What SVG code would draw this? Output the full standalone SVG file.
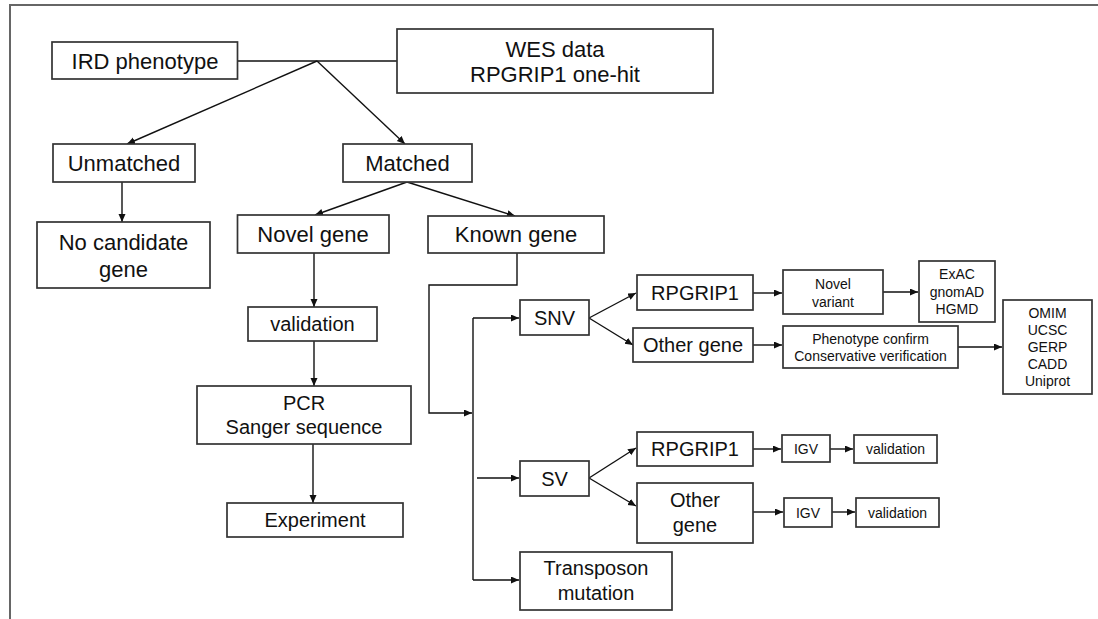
<svg xmlns="http://www.w3.org/2000/svg" width="1098" height="619" viewBox="0 0 1098 619">
<defs>
<marker id="ah" markerUnits="userSpaceOnUse" markerWidth="9" markerHeight="8" refX="8" refY="3.5" orient="auto">
<path d="M0,0 L8,3.5 L0,7 z" fill="#111"/>
</marker>
<style>
.box{fill:#fff;stroke:#333;stroke-width:1.7}
.t{font-family:"Liberation Sans",Arial,sans-serif;fill:#111;text-anchor:middle}
.l{font-size:22px}
.m{font-size:20px}
.s{font-size:14px}
.c{fill:none;stroke:#111;stroke-width:1.4}
.a{fill:none;stroke:#111;stroke-width:1.4;marker-end:url(#ah)}
</style>
</defs>
<rect x="0" y="0" width="1098" height="619" fill="#fff"/>
<path d="M10,619 V5 H1098" fill="none" stroke="#666" stroke-width="2"/>

<g id="connectors">
<path class="c" d="M237.5,61 H397"/>
<path class="a" d="M317,61 L127,144"/>
<path class="a" d="M317,61 L405,144"/>
<path class="a" d="M122,182 V222"/>
<path class="a" d="M407,182 L315,215"/>
<path class="a" d="M407,182 L515,216"/>
<path class="a" d="M314,253 V307"/>
<path class="a" d="M314,341 V386"/>
<path class="a" d="M313,444 V503"/>
<path class="a" d="M517,253 V285 H429 V413 H472"/>
<path class="c" d="M473,318 V580"/>
<path class="a" d="M473,318 H519"/>
<path class="a" d="M473,580 H519"/>
<path class="a" d="M477,478 H519"/>
<path class="a" d="M589,318 L636,293"/>
<path class="a" d="M589,318 L633,345"/>
<path class="a" d="M753,293 H782"/>
<path class="a" d="M753,345 H782"/>
<path class="a" d="M883,292 H918"/>
<path class="a" d="M958,347 H1002"/>
<path class="a" d="M589,478 L636,448"/>
<path class="a" d="M589,478 L636,506"/>
<path class="a" d="M753,449 H781"/>
<path class="a" d="M830,449 H853"/>
<path class="a" d="M753,512 H783"/>
<path class="a" d="M832,512 H855"/>
</g>

<g id="ird"><rect class="box" x="52" y="42" width="185.5" height="37"/><text class="t l" x="145" y="69">IRD phenotype</text></g>
<g id="wes"><rect class="box" x="397" y="29" width="316" height="64"/><text class="t l" x="555" y="57">WES data</text><text class="t l" x="555" y="82">RPGRIP1 one-hit</text></g>
<g id="unmatched"><rect class="box" x="53" y="144" width="142" height="38"/><text class="t l" x="124" y="171">Unmatched</text></g>
<g id="matched"><rect class="box" x="343" y="144" width="129" height="38"/><text class="t l" x="407.5" y="171">Matched</text></g>
<g id="nocandidate"><rect class="box" x="37" y="222" width="173" height="66"/><text class="t l" x="123.5" y="250">No candidate</text><text class="t l" x="123.5" y="277">gene</text></g>
<g id="novelgene"><rect class="box" x="237.5" y="215" width="151.5" height="38"/><text class="t l" x="313" y="242">Novel gene</text></g>
<g id="knowngene"><rect class="box" x="428" y="216" width="176" height="37"/><text class="t l" x="516" y="242">Known gene</text></g>
<g id="validation"><rect class="box" x="248" y="307" width="129" height="34"/><text class="t m" x="312.5" y="331">validation</text></g>
<g id="pcr"><rect class="box" x="197" y="386" width="214" height="58"/><text class="t m" x="304" y="410">PCR</text><text class="t m" x="304" y="434">Sanger sequence</text></g>
<g id="experiment"><rect class="box" x="227" y="503" width="176" height="34"/><text class="t m" x="315" y="527">Experiment</text></g>
<g id="snv"><rect class="box" x="520" y="300" width="69" height="35"/><text class="t m" x="554.5" y="324.5">SNV</text></g>
<g id="snv-rpgrip1"><rect class="box" x="637" y="275" width="116" height="35"/><text class="t m" x="695" y="299.5">RPGRIP1</text></g>
<g id="snv-other"><rect class="box" x="633" y="328" width="120" height="34"/><text class="t m" x="693" y="352">Other gene</text></g>
<g id="novelvariant"><rect class="box" x="783" y="270" width="100" height="44"/><text class="t s" x="833" y="289">Novel</text><text class="t s" x="833" y="307">variant</text></g>
<g id="exac"><rect class="box" x="919" y="261" width="76" height="61"/><text class="t s" x="957" y="279">ExAC</text><text class="t s" x="957" y="297">gnomAD</text><text class="t s" x="957" y="314">HGMD</text></g>
<g id="phenotype"><rect class="box" x="783" y="326" width="175" height="42"/><text class="t s" x="870.5" y="344">Phenotype confirm</text><text class="t s" x="870.5" y="361">Conservative verification</text></g>
<g id="omim"><rect class="box" x="1003" y="300" width="89" height="94"/><text class="t s" x="1047.5" y="318">OMIM</text><text class="t s" x="1047.5" y="335">UCSC</text><text class="t s" x="1047.5" y="352">GERP</text><text class="t s" x="1047.5" y="369">CADD</text><text class="t s" x="1047.5" y="386">Uniprot</text></g>
<g id="sv"><rect class="box" x="520" y="461" width="69" height="35"/><text class="t m" x="554.5" y="485.5">SV</text></g>
<g id="sv-rpgrip1"><rect class="box" x="637" y="432" width="116" height="34"/><text class="t m" x="695" y="456">RPGRIP1</text></g>
<g id="sv-other"><rect class="box" x="637" y="483" width="116" height="60"/><text class="t m" x="695" y="507">Other</text><text class="t m" x="695" y="532">gene</text></g>
<g id="igv1"><rect class="box" x="782" y="435" width="48" height="27"/><text class="t s" x="806" y="453.5">IGV</text></g>
<g id="validation1"><rect class="box" x="854" y="435" width="83" height="28"/><text class="t s" x="895.5" y="453.5">validation</text></g>
<g id="igv2"><rect class="box" x="784" y="498" width="48" height="29"/><text class="t s" x="808" y="517.5">IGV</text></g>
<g id="validation2"><rect class="box" x="856" y="498" width="83" height="29"/><text class="t s" x="897.5" y="517.5">validation</text></g>
<g id="transposon"><rect class="box" x="520" y="552" width="152" height="58"/><text class="t m" x="596" y="575">Transposon</text><text class="t m" x="596" y="600">mutation</text></g>
</svg>
